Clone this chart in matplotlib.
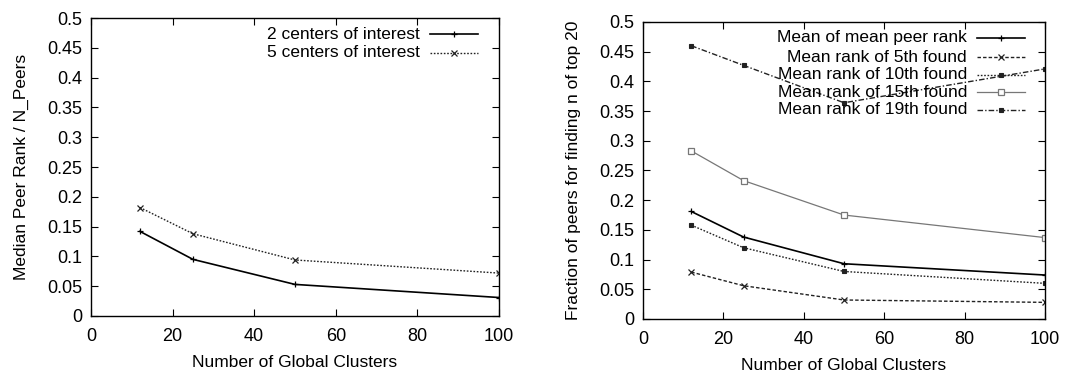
import matplotlib
matplotlib.use("Agg")
import matplotlib.pyplot as plt
from matplotlib.ticker import FuncFormatter

plt.rcParams['font.family'] = ['Liberation Sans', 'DejaVu Sans']

# data
clusters = [12, 25, 50, 100]

# left panel
left_labels = ["2 centers of interest", "5 centers of interest"]
two_centers = [0.142, 0.095, 0.053, 0.031]
five_centers = [0.182, 0.138, 0.094, 0.072]

# right panel
right_labels = ["Mean of mean peer rank", "Mean rank of 5th found",
                "Mean rank of 10th found", "Mean rank of 15th found",
                "Mean rank of 19th found"]
mean_rank = [0.181, 0.138, 0.093, 0.074]
rank_5th = [0.079, 0.056, 0.032, 0.028]
rank_10th = [0.158, 0.120, 0.080, 0.060]
rank_15th = [0.283, 0.233, 0.175, 0.137]
rank_19th = [0.460, 0.427, 0.364, 0.421]

xticks = [0, 20, 40, 60, 80, 100]
yticks = [0, 0.05, 0.1, 0.15, 0.2, 0.25, 0.3, 0.35, 0.4, 0.45, 0.5]

FS = 12.5
TICK_FS = 13
KEY_FS = 12.5


def style_axes(ax):
    ax.set_xlim(0, 100)
    ax.set_ylim(0, 0.5)
    ax.set_xticks(xticks)
    ax.set_yticks(yticks)
    ax.yaxis.set_major_formatter(FuncFormatter(lambda v, p: "%g" % round(v, 3)))
    ax.tick_params(direction="in", top=True, right=True, length=5, width=0.8,
                   labelsize=TICK_FS)
    ax.tick_params(axis="x", pad=9)
    ax.tick_params(axis="y", pad=6)
    for s in ax.spines.values():
        s.set_linewidth(1.0)
    ax.set_xlabel("Number of Global Clusters", fontsize=FS, labelpad=7)


def draw_series(ax, y, style, label_y, label):
    ax.plot(clusters, y, **style)
    # gnuplot style key: right aligned text, then sample line
    ax.text(0.806, label_y, label, transform=ax.transAxes, ha="right",
            va="center", fontsize=KEY_FS)
    line_style = {k: v for k, v in style.items()
                  if not k.startswith("marker")}
    ax.plot([0.832, 0.949], [label_y, label_y], transform=ax.transAxes,
            clip_on=False, **line_style)
    # marker in middle of sample
    ax.plot([0.89], [label_y], transform=ax.transAxes, clip_on=False,
            linestyle="none", marker=style.get("marker"),
            color=style.get("color"), markersize=style.get("markersize"),
            markerfacecolor=style.get("markerfacecolor", style.get("color")),
            markeredgewidth=style.get("markeredgewidth", 1))


fig = plt.figure(figsize=(10.88, 3.76), dpi=100)
ax1 = fig.add_axes([0.0836, 0.1596, 0.375, 0.7925])
ax2 = fig.add_axes([0.591, 0.1516, 0.3695, 0.79])

style_axes(ax1)
style_axes(ax2)

s_solid = dict(color="black", linestyle="-", linewidth=1.2, marker="+",
               markersize=4, markeredgewidth=0.9)
s_dot = dict(color="#222222", linestyle=(0, (1.2, 1.2)), linewidth=1.0,
             marker="x", markersize=4, markeredgewidth=0.9)

ax1.set_ylabel("Median Peer Rank / N_Peers", fontsize=FS, labelpad=13)
draw_series(ax1, two_centers, s_solid, 0.946, left_labels[0])
draw_series(ax1, five_centers, s_dot, 0.883, left_labels[1])

r_styles = [
    dict(color="black", linestyle="-", linewidth=1.2, marker="+",
         markersize=4, markeredgewidth=0.9),
    dict(color="#222222", linestyle=(0, (2.5, 1.5)), linewidth=1.0,
         marker="x", markersize=4, markeredgewidth=0.9),
    dict(color="#222222", linestyle=(0, (1.2, 1.2)), linewidth=1.0,
         marker="s", markersize=3.5, markeredgewidth=0.8),
    dict(color="#777777", linestyle="-", linewidth=0.9, marker="s",
         markersize=5, markerfacecolor="white", markeredgewidth=0.9),
    dict(color="#222222", linestyle=(0, (4, 1.5, 1, 1.5)), linewidth=1.0,
         marker="s", markersize=3.5, markeredgewidth=0.8),
]
r_data = [mean_rank, rank_5th, rank_10th, rank_15th, rank_19th]
r_pos = [0.946, 0.882, 0.823, 0.764, 0.704]

ax2.set_ylabel("Fraction of peers for finding n of top 20", fontsize=FS,
               labelpad=13)
for y, st, py, lab in zip(r_data, r_styles, r_pos, right_labels):
    draw_series(ax2, y, st, py, lab)

fig.savefig("out.png", dpi=100)
